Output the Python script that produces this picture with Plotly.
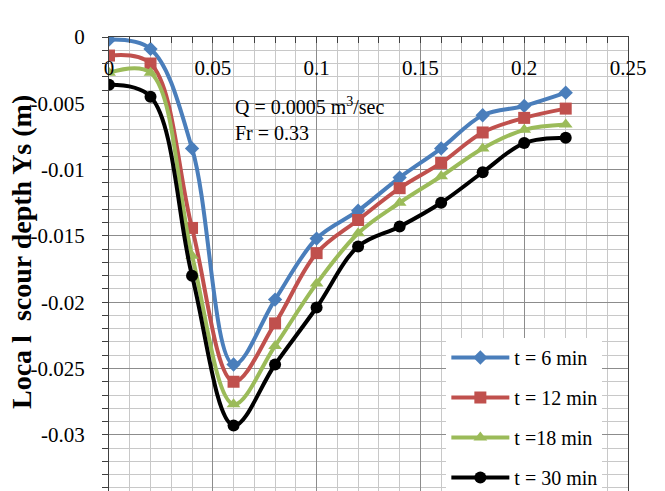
import plotly.graph_objects as go

x_vals = [0, 0.02, 0.04, 0.06, 0.08, 0.10, 0.12, 0.14, 0.16, 0.18, 0.20, 0.22]
y_t6 = [-0.0002, -0.0009, -0.0084, -0.0247, -0.0198, -0.0152, -0.0131, -0.0106, -0.0084, -0.0059, -0.0052, -0.0042]
y_t12 = [-0.0014, -0.0020, -0.0144, -0.0260, -0.0216, -0.0163, -0.0138, -0.0114, -0.0095, -0.0072, -0.0061, -0.0054]
y_t18 = [-0.0027, -0.0027, -0.0165, -0.0277, -0.0233, -0.0186, -0.0148, -0.0125, -0.0105, -0.0084, -0.0070, -0.0066]
y_t30 = [-0.0036, -0.0045, -0.0180, -0.0293, -0.0247, -0.0204, -0.0158, -0.0143, -0.0125, -0.0102, -0.0080, -0.0076]

series_names = ["t = 6 min", "t = 12 min", "t =18 min", "t = 30 min"]
series_colors = ["#4A7EBB", "#C0504D", "#9BBB59", "#000000"]
series_symbols = ["diamond", "square", "triangle-up", "circle"]
series_sizes = [11, 12, 12, 12]

x_tickvals = [0, 0.05, 0.10, 0.15, 0.20, 0.25]
x_ticktext = ["0", "0.05", "0.1", "0.15", "0.2", "0.25"]
y_tickvals = [0, -0.005, -0.010, -0.015, -0.020, -0.025, -0.030]
y_ticktext = ["0", "-0.005", "-0.01", "-0.015", "-0.02", "-0.025", "-0.03"]

FONT = "Liberation Serif, Times New Roman, serif"

fig = go.Figure()
for name, ys, col, sym, sz in zip(series_names, [y_t6, y_t12, y_t18, y_t30],
                                  series_colors, series_symbols, series_sizes):
    fig.add_trace(go.Scatter(
        x=x_vals, y=ys, name=name, mode="lines+markers",
        line=dict(color=col, width=4, shape="spline", smoothing=1.0),
        marker=dict(color=col, symbol=sym, size=sz),
        legendgroup=name,
    ))

W, H = 665, 491
L, R, T, B = 109, 37, 37, 0

fig.update_layout(
    width=W, height=H,
    margin=dict(l=L, r=R, t=T, b=B, pad=0, autoexpand=False),
    paper_bgcolor="white", plot_bgcolor="white",
    font=dict(family=FONT, size=21, color="black"),
    showlegend=True,
    legend=dict(
        x=0.65, y=0.337, xanchor="left", yanchor="top",
        bgcolor="white", borderwidth=0,
        font=dict(family=FONT, size=20, color="black"),
        traceorder="grouped", tracegroupgap=11,
        itemwidth=58,
    ),
    xaxis=dict(
        range=[0, 0.25], side="top",
        tickvals=x_tickvals, ticktext=x_ticktext,
        ticks="inside", ticklen=6, tickcolor="#404040",
        ticklabelposition="inside", ticklabelstandoff=19,
        ticklabeloverflow="allow",
        showline=True, linecolor="#404040", linewidth=1,
        showgrid=True, gridcolor="#8C8C8C", gridwidth=1,
        minor=dict(dtick=0.01, showgrid=True, gridcolor="#C8C8C8", gridwidth=1,
                   ticks="inside", ticklen=6, tickcolor="#404040"),
        zeroline=False,
        tickfont=dict(family=FONT, size=21, color="black"),
    ),
    yaxis=dict(
        range=[-0.03424, 0.0000001],
        tickvals=y_tickvals, ticktext=y_ticktext,
        ticks="outside", ticklen=6, tickcolor="#404040",
        ticklabelstandoff=13, ticklabeloverflow="allow",
        showline=True, linecolor="#404040", linewidth=1, mirror=True,
        showgrid=True, gridcolor="#8C8C8C", gridwidth=1,
        minor=dict(dtick=0.001, showgrid=True, gridcolor="#C8C8C8", gridwidth=1,
                   ticks="outside", ticklen=6, tickcolor="#404040"),
        zeroline=False,
        tickfont=dict(family=FONT, size=21, color="black"),
    ),
)

# white text box behind the flow annotation
fig.add_shape(type="rect", xref="paper", yref="paper",
              x0=0.2004, x1=0.599, y0=0.758, y1=0.894,
              fillcolor="white", line=dict(width=0), layer="between")

fig.add_annotation(xref="paper", yref="paper", x=(233 - L) / (W - L - R), y=(H - 119) / (H - T - B),
                   xanchor="left", yanchor="middle", showarrow=False, align="left",
                   text="Q = 0.0005 m<sup>3</sup>/sec<br>Fr = 0.33",
                   font=dict(family=FONT, size=20, color="black"))

# y axis title
fig.add_annotation(xref="paper", yref="paper", x=0, xshift=21 - L, y=(H - 252) / (H - T - B),
                   xanchor="center", yanchor="middle", showarrow=False, textangle=-90,
                   text="<b>Loca l  scour depth Ys (m)</b>",
                   font=dict(family=FONT, size=28, color="black"))

fig.write_html("out.html")
